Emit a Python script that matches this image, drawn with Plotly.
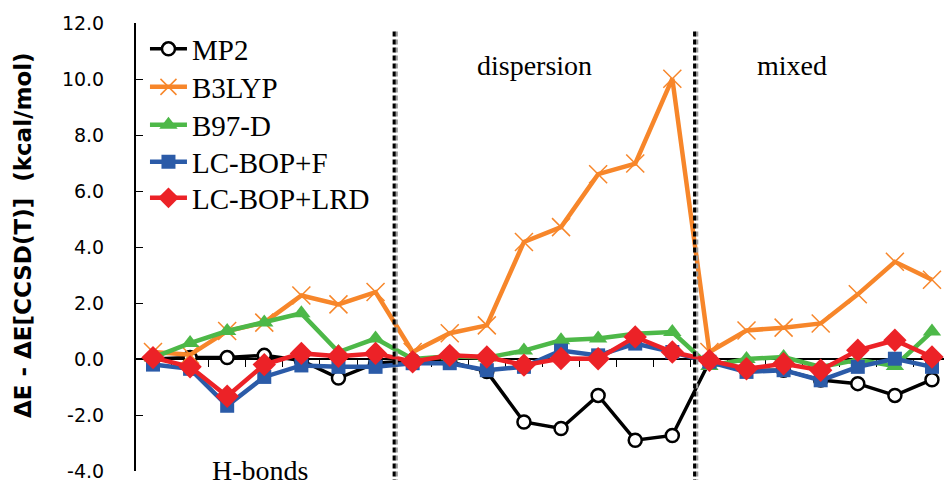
import plotly.graph_objects as go

# ---------------- data ----------------
groups = ["H-bonds"] * 7 + ["dispersion"] * 8 + ["mixed"] * 7
x_pos = list(range(len(groups)))

mp2 = [0.0, 0.05, 0.05, 0.13, -0.05, -0.68, -0.15,
       -0.05, -0.1, -0.45, -2.25, -2.48, -1.3, -2.9, -2.73,
       -0.1, -0.4, -0.4, -0.75, -0.88, -1.3, -0.74]
b3lyp = [0.25, 0.15, 1.0, 1.3, 2.27, 1.95, 2.39,
         0.25, 0.92, 1.2, 4.18, 4.71, 6.6, 6.98, 10.01,
         0.25, 1.02, 1.12, 1.27, 2.31, 3.47, 2.83]
b97d = [0.05, 0.57, 1.0, 1.3, 1.63, 0.25, 0.73,
        0.0, 0.1, 0.05, 0.3, 0.67, 0.73, 0.9, 0.96,
        -0.25, 0.0, 0.07, -0.28, -0.03, -0.25, 0.98]
lcbop_f = [-0.2, -0.35, -1.67, -0.64, -0.23, -0.28, -0.28,
           -0.15, -0.15, -0.4, -0.28, 0.3, 0.13, 0.55, 0.25,
           -0.1, -0.46, -0.4, -0.76, -0.28, 0.01, -0.28]
lcbop_lrd = [0.05, -0.28, -1.33, -0.2, 0.2, 0.1, 0.2,
             -0.1, 0.13, 0.07, -0.22, 0.02, 0.01, 0.79, 0.25,
             -0.05, -0.35, -0.17, -0.4, 0.31, 0.67, 0.07]

series_names = ["MP2", "B3LYP", "B97-D", "LC-BOP+F", "LC-BOP+LRD"]
series_values = [mp2, b3lyp, b97d, lcbop_f, lcbop_lrd]

ytick_vals = [-4, -2, 0, 2, 4, 6, 8, 10, 12]
ytick_text = ["-4.0", "-2.0", "0.0", "2.0", "4.0", "6.0", "8.0", "10.0", "12.0"]

y_title = "ΔE - ΔE[CCSD(T)]\u00a0\u00a0(kcal/mol)"
group_dividers = [6.5, 14.6]
group_label_pos = {"H-bonds": (2.88, -3.98), "dispersion": (10.28, 10.5), "mixed": (17.23, 10.5)}

# ---------------- styles ----------------
styles = {
    "MP2": dict(line=dict(color="black", width=3.5),
                marker=dict(symbol="circle", size=13, color="white",
                            line=dict(color="black", width=2.5))),
    "B3LYP": dict(line=dict(color="#F7862A", width=4.5),
                  marker=dict(symbol="x-thin", size=18, color="#F7862A",
                              line=dict(color="#F7862A", width=1.5))),
    "B97-D": dict(line=dict(color="#4DB848", width=4.5),
                  marker=dict(symbol="triangle-up", size=16, color="#4DB848",
                              line=dict(width=0))),
    "LC-BOP+F": dict(line=dict(color="#2B5BA8", width=4.5),
                     marker=dict(symbol="square", size=14, color="#2B5BA8",
                                 line=dict(width=0))),
    "LC-BOP+LRD": dict(line=dict(color="#EC2227", width=4.5),
                       marker=dict(symbol="diamond", size=18, color="#EC2227",
                                   line=dict(width=0))),
}

# legend rows (pixel centres from the top of the figure)
legend_rows = [49, 87, 125, 162, 198]
plot_top, plot_h = 23, 448

fig = go.Figure()
legend_layout = {}
for i, (name, vals) in enumerate(zip(series_names, series_values)):
    lg = "legend" if i == 0 else f"legend{i + 1}"
    fig.add_trace(go.Scatter(x=x_pos, y=vals, name=name, mode="lines+markers",
                             legend=lg, **styles[name]))
    legend_layout[lg] = dict(
        x=0.0111, y=1 - (legend_rows[i] - plot_top) / plot_h,
        xanchor="left", yanchor="middle",
        bgcolor="rgba(0,0,0,0)", itemwidth=37,
        font=dict(family="Liberation Serif", size=29, color="black"))

boundaries = [i + 0.5 for i in range(len(groups) - 1)]
xrange = [-0.458, 21.324]

fig.update_layout(
    width=944, height=480,
    margin=dict(l=136, r=0, t=plot_top, b=480 - plot_top - plot_h),
    plot_bgcolor="white", paper_bgcolor="white",
    showlegend=True,
    **legend_layout,
    xaxis=dict(range=xrange, anchor="free", position=0.25, automargin=False,
               showline=True, linecolor="black", linewidth=2,
               ticks="outside", ticklen=7, tickwidth=1.3, tickcolor="black",
               tickvals=boundaries, showticklabels=False,
               showgrid=False, zeroline=False, layer="below traces"),
    xaxis2=dict(range=xrange, overlaying="x", anchor="free", position=0.25,
                automargin=False,
                showline=False, ticks="inside", ticklen=7, tickwidth=1.3,
                tickcolor="black", tickvals=boundaries, showticklabels=False,
                showgrid=False, zeroline=False, layer="below traces"),
    yaxis=dict(range=[-4, 12], automargin=False,
               showline=True, linecolor="black", linewidth=2,
               ticks="inside", ticklen=7, tickwidth=1.3, tickcolor="black",
               tickvals=ytick_vals, ticktext=ytick_text,
               tickfont=dict(family="DejaVu Sans", size=19, color="black"),
               ticklabelstandoff=26, ticklabeloverflow="allow",
               showgrid=False, zeroline=False, layer="below traces"),
)

# y-axis title as a rotated annotation
fig.add_annotation(x=(23 - 136) / 808, y=1 - (235 - plot_top) / plot_h,
                   xref="paper", yref="paper", text=y_title, textangle=-90,
                   showarrow=False, xanchor="center", yanchor="middle",
                   font=dict(family="DejaVu Sans", size=23, color="black",
                             weight="bold"))

for xd in group_dividers:
    fig.add_shape(type="line", xref="x", yref="paper", x0=xd + 0.06, x1=xd + 0.06,
                  y0=-0.03, y1=0.984,
                  line=dict(color="#9a9a9a", width=3, dash="5px,3px"))
    fig.add_shape(type="line", xref="x", yref="paper", x0=xd, x1=xd,
                  y0=-0.03, y1=0.984,
                  line=dict(color="black", width=3, dash="5px,3px"))

for label, (gx, gy) in group_label_pos.items():
    fig.add_annotation(x=gx, y=gy, xref="x", yref="y", text=label,
                       showarrow=False, xanchor="center", yanchor="middle",
                       font=dict(family="Liberation Serif", size=28, color="black"))

fig.write_html("out.html",
               config={"displayModeBar": False},
               post_script="document.body.style.margin='0px';")
